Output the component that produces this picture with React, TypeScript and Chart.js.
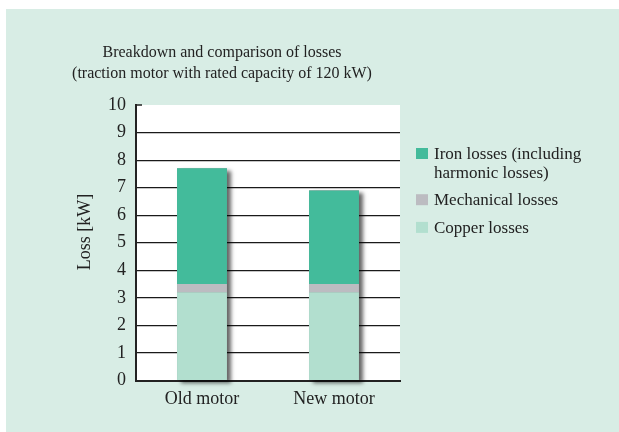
import React, { useEffect, useRef } from "react";
import { Chart, registerables } from "chart.js";

Chart.register(...registerables);

const categories = ["Old motor", "New motor"];
const copperLosses = [3.2, 3.2];
const mechanicalLosses = [0.3, 0.3];
const ironLosses = [4.2, 3.4];
const yMin = 0;
const yMax = 10;
const yStep = 1;
const titleLines = [
  "Breakdown and comparison of losses",
  "(traction motor with rated capacity of 120 kW)",
];
const yAxisLabel = "Loss [kW]";
const seriesNames = ["Copper losses", "Mechanical losses", "Iron losses (including harmonic losses)"];
const legendLines = [
  ["Iron losses (including", "harmonic losses)"],
  ["Mechanical losses"],
  ["Copper losses"],
];

const FONT = "'Liberation Serif', 'Times New Roman', serif";
const BG = "#d8ede5";
const IRON = "#43bb9b";
const MECH = "#bcbcc1";
const COPPER = "#b2dfcf";
const INK = "#222222";

const decor = {
  id: "decor",
  beforeDraw(chart: any) {
    const { ctx, chartArea: a } = chart;
    ctx.save();
    ctx.fillStyle = BG;
    ctx.fillRect(6, 9, 613, 423);
    ctx.fillStyle = "#ffffff";
    ctx.fillRect(a.left, a.top, a.right - a.left, a.bottom - a.top);
    ctx.restore();
  },
  beforeDatasetsDraw(chart: any) {
    const { ctx } = chart;
    const metas = chart.getSortedVisibleDatasetMetas();
    const n = chart.data.labels.length;
    ctx.save();
    for (let i = 0; i < n; i++) {
      let top = Infinity, bottom = -Infinity, left = 0, right = 0;
      metas.forEach((m: any) => {
        const el = m.data[i];
        if (!el) return;
        const p = el.getProps(["x", "y", "base", "width"], true);
        top = Math.min(top, p.y, p.base);
        bottom = Math.max(bottom, p.y, p.base);
        left = p.x - p.width / 2;
        right = p.x + p.width / 2;
      });
      ctx.shadowColor = "rgba(0,0,0,0.6)";
      ctx.shadowBlur = 4;
      ctx.shadowOffsetX = 4;
      ctx.shadowOffsetY = 3;
      ctx.fillStyle = "#888";
      ctx.fillRect(left, top, right - left, bottom - top);
    }
    ctx.restore();
  },
  afterDraw(chart: any) {
    const { ctx, chartArea: a } = chart;
    ctx.save();
    // top tick at max value
    const yTop = chart.scales.y.getPixelForValue(yMax);
    ctx.strokeStyle = INK;
    ctx.lineWidth = 1.5;
    ctx.beginPath();
    ctx.moveTo(a.left, yTop);
    ctx.lineTo(a.left + 6, yTop);
    ctx.stroke();

    // title
    ctx.fillStyle = INK;
    ctx.font = `16px ${FONT}`;
    ctx.textAlign = "center";
    ctx.textBaseline = "alphabetic";
    ctx.fillText(titleLines[0], 222, 57);
    ctx.fillText(titleLines[1], 222, 78);

    // y axis label
    ctx.save();
    ctx.translate(85, 232);
    ctx.rotate(-Math.PI / 2);
    ctx.font = `18px ${FONT}`;
    ctx.textAlign = "center";
    ctx.textBaseline = "middle";
    ctx.fillText(yAxisLabel, 0, 0);
    ctx.restore();

    // legend
    const colors = [IRON, MECH, COPPER];
    ctx.font = `17px ${FONT}`;
    ctx.textAlign = "left";
    ctx.textBaseline = "alphabetic";
    let y = 159;
    legendLines.forEach((lines, k) => {
      ctx.fillStyle = colors[k];
      ctx.fillRect(416, y - 11, 12, 11);
      ctx.fillStyle = INK;
      lines.forEach((ln, j) => {
        ctx.fillText(ln, 434, y + j * 18.5);
      });
      y = y + (lines.length - 1) * 18.5 + 27.7;
    });
    ctx.restore();
  },
};

export default function App() {
  const ref = useRef<HTMLCanvasElement | null>(null);
  useEffect(() => {
    if (!ref.current) return;
    const chart = new Chart(ref.current, {
      type: "bar",
      data: {
        labels: categories,
        datasets: [
          { label: seriesNames[0], data: copperLosses, backgroundColor: COPPER },
          { label: seriesNames[1], data: mechanicalLosses, backgroundColor: MECH },
          { label: seriesNames[2], data: ironLosses, backgroundColor: IRON },
        ],
      },
      options: {
        responsive: false,
        animation: false,
        devicePixelRatio: 1,
        layout: { padding: { left: 0, top: 105, right: 219, bottom: 0 } },
        datasets: {
          bar: { barPercentage: 0.378, categoryPercentage: 1, borderWidth: 0 },
        },
        plugins: {
          legend: { display: false },
          title: { display: false },
          tooltip: { enabled: false },
        },
        scales: {
          x: {
            stacked: true,
            z: 1,
            grid: { display: false, drawTicks: false },
            border: { display: true, color: INK, width: 2 },
            ticks: { color: INK, font: { family: FONT, size: 18 }, padding: 8 },
            afterFit: (s: any) => {
              s.height = 51.5;
            },
          },
          y: {
            stacked: true,
            min: yMin,
            max: yMax,
            grid: {
              color: (c: any) => (c.tick && c.tick.value === yMax ? "rgba(0,0,0,0)" : "#1a1a1a"),
              lineWidth: 1.2,
              drawTicks: false,
            },
            border: { display: true, color: INK, width: 2 },
            ticks: { stepSize: yStep, color: INK, font: { family: FONT, size: 18 }, padding: 10 },
            afterFit: (s: any) => {
              s.width = 136;
            },
          },
        },
      },
      plugins: [decor],
    });
    return () => chart.destroy();
  }, []);
  return (
    <div style={{ position: "fixed", left: 0, top: 0, width: 619, height: 432 }}>
      <canvas ref={ref} width={619} height={432} style={{ display: "block", width: 619, height: 432 }} />
    </div>
  );
}
